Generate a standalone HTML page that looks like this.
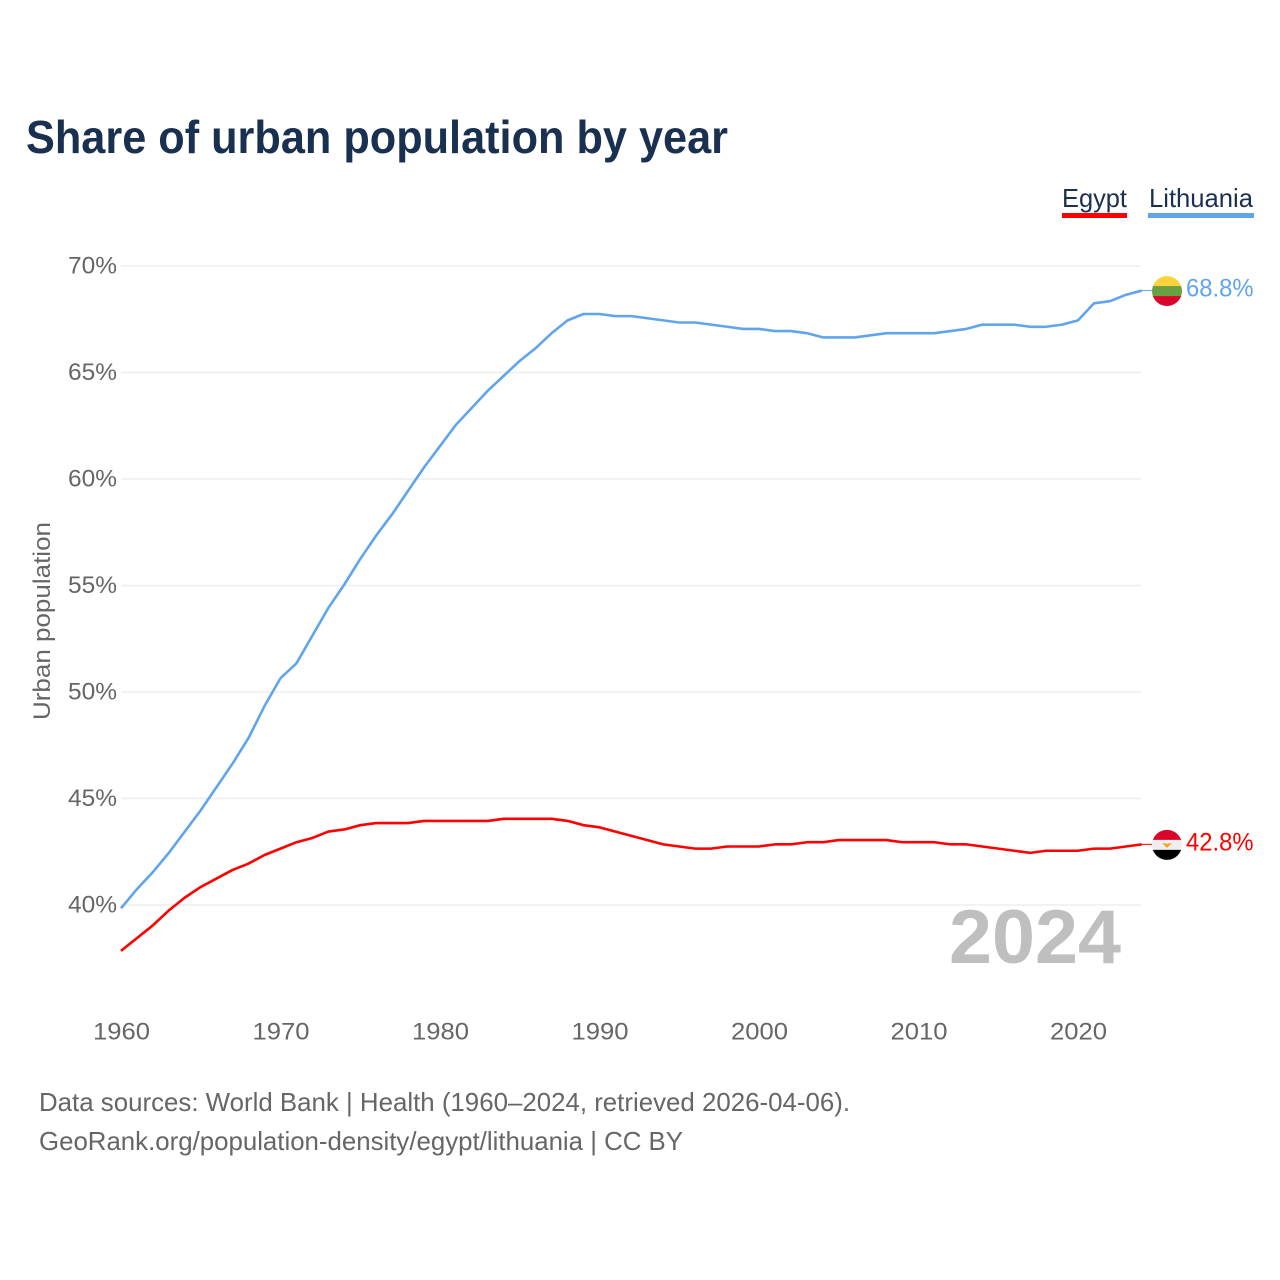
<!DOCTYPE html>
<html lang="en">
<head>
<meta charset="utf-8">
<title>Share of urban population by year</title>
<style>
html,body{margin:0;padding:0;background:#fff;width:1280px;height:1280px;overflow:hidden}
svg{display:block;font-family:"Liberation Sans",sans-serif}
</style>
</head>
<body>
<svg id="chart" width="1280" height="1280" viewBox="0 0 1280 1280" xmlns="http://www.w3.org/2000/svg">
  <rect width="1280" height="1280" fill="#ffffff"/>
  <text x="26" y="153" font-size="46" font-weight="700" fill="#1a3050" textLength="702" lengthAdjust="spacingAndGlyphs">Share of urban population by year</text>

  <g>
    <g>
      <text x="1062" y="207" font-size="26" fill="#1a3050" textLength="65" lengthAdjust="spacingAndGlyphs">Egypt</text>
      <rect x="1062" y="213" width="65" height="5" fill="#ff0000"/>
    </g>
    <g>
      <text x="1149" y="207" font-size="26" fill="#1a3050" textLength="104" lengthAdjust="spacingAndGlyphs">Lithuania</text>
      <rect x="1148" y="213" width="106" height="5" fill="#60a5ec"/>
    </g>
  </g>

  <g id="grid"></g>
  <g id="yticks"></g>
  <g id="xticks"></g>

  <text transform="translate(50 621) rotate(-90)" text-anchor="middle" font-size="24" fill="#666666" textLength="198" lengthAdjust="spacingAndGlyphs">Urban population</text>

  <text x="949" y="963" font-size="76" font-weight="700" fill="#bfbfbf" textLength="172" lengthAdjust="spacingAndGlyphs">2024</text>

  <g id="series"></g>

  <defs>
    <clipPath id="clip-lt"><circle id="clip-lt-c" cx="1167" cy="290" r="15"/></clipPath>
    <clipPath id="clip-eg"><circle id="clip-eg-c" cx="1167" cy="844" r="15"/></clipPath>
  </defs>
  <g id="flag-lt" clip-path="url(#clip-lt)"></g>
  <g id="flag-eg" clip-path="url(#clip-eg)"></g>

  <text x="39" y="1111" font-size="26" fill="#666666" textLength="811" lengthAdjust="spacingAndGlyphs">Data sources: World Bank | Health (1960–2024, retrieved 2026-04-06).</text>
  <text x="39" y="1150" font-size="26" fill="#666666" textLength="644" lengthAdjust="spacingAndGlyphs">GeoRank.org/population-density/egypt/lithuania | CC BY</text>
</svg>
<script>
const years = [1960,1961,1962,1963,1964,1965,1966,1967,1968,1969,1970,1971,1972,1973,1974,1975,1976,1977,1978,1979,1980,1981,1982,1983,1984,1985,1986,1987,1988,1989,1990,1991,1992,1993,1994,1995,1996,1997,1998,1999,2000,2001,2002,2003,2004,2005,2006,2007,2008,2009,2010,2011,2012,2013,2014,2015,2016,2017,2018,2019,2020,2021,2022,2023,2024];
const lithuaniaValues = [39.8,40.7,41.5,42.4,43.4,44.4,45.5,46.6,47.8,49.3,50.6,51.3,52.6,53.9,55.0,56.2,57.3,58.3,59.4,60.5,61.5,62.5,63.3,64.1,64.8,65.5,66.1,66.8,67.4,67.7,67.7,67.6,67.6,67.5,67.4,67.3,67.3,67.2,67.1,67.0,67.0,66.9,66.9,66.8,66.6,66.6,66.6,66.7,66.8,66.8,66.8,66.8,66.9,67.0,67.2,67.2,67.2,67.1,67.1,67.2,67.4,68.2,68.3,68.6,68.8];
const egyptValues = [37.8,38.4,39.0,39.7,40.3,40.8,41.2,41.6,41.9,42.3,42.6,42.9,43.1,43.4,43.5,43.7,43.8,43.8,43.8,43.9,43.9,43.9,43.9,43.9,44.0,44.0,44.0,44.0,43.9,43.7,43.6,43.4,43.2,43.0,42.8,42.7,42.6,42.6,42.7,42.7,42.7,42.8,42.8,42.9,42.9,43.0,43.0,43.0,43.0,42.9,42.9,42.9,42.8,42.8,42.7,42.6,42.5,42.4,42.5,42.5,42.5,42.6,42.6,42.7,42.8];
const yTickValues = [40,45,50,55,60,65,70];
const xTickValues = [1960,1970,1980,1990,2000,2010,2020];

const NS = 'http://www.w3.org/2000/svg';
function xScale(year){ return 121 + (year - 1960) * 15.95; }
function yScale(pct){ return 905 - (pct - 40) * 21.3; }
function lineY(pct){ return yScale(pct) - 1; }
function make(tag, parent, attrs){
  const el = document.createElementNS(NS, tag);
  for (const k in attrs) el.setAttribute(k, attrs[k]);
  parent.appendChild(el);
  return el;
}

const grid = document.getElementById('grid');
const yticks = document.getElementById('yticks');
yTickValues.forEach(function(v){
  const line = make('line', grid, {x1:121, x2:1141, y1:yScale(v), y2:yScale(v), stroke:'#eeeeee', 'stroke-width':1.5});
  
  
  const t = make('text', yticks, {x:117, y:yScale(v)+7.5, 'text-anchor':'end', 'font-size':24, fill:'#666666'});
  
  
  t.setAttribute('textLength', '49');
  t.setAttribute('lengthAdjust', 'spacingAndGlyphs');
  t.textContent = v + '%';
});

const xticks = document.getElementById('xticks');
xTickValues.forEach(function(yr){
  const t = make('text', xticks, {x:xScale(yr)+0.5, y:1039.5, 'text-anchor':'middle', 'font-size':24, fill:'#666666'});
  
  
  t.setAttribute('textLength', '57');
  t.setAttribute('lengthAdjust', 'spacingAndGlyphs');
  t.textContent = yr;
});

const seriesGroup = document.getElementById('series');
function drawSeries(values, color, key){
  const pts = values.map(function(v, i){ return xScale(years[i]).toFixed(2) + ',' + lineY(v).toFixed(2); }).join(' ');
  const line = make('polyline', seriesGroup, {points:pts, fill:'none', stroke:color, 'stroke-width':2.6, 'stroke-linejoin':'round'});
  
  
  const lastV = values[values.length - 1];
  const lastX = xScale(years[years.length - 1]);
  const conn = make('line', seriesGroup, {x1:lastX, x2:1152, y1:lineY(lastV), y2:lineY(lastV), stroke:color, 'stroke-width':1});
  
  
  const label = make('text', seriesGroup, {x:1186, y:lineY(lastV)+6, 'font-size':25, fill:color});
  
  
  label.setAttribute('textLength', '67.5');
  label.setAttribute('lengthAdjust', 'spacingAndGlyphs');
  label.textContent = lastV.toFixed(1) + '%';
}
drawSeries(lithuaniaValues, '#60a5ec', 'lithuania');
drawSeries(egyptValues, '#ff0000', 'egypt');

function drawFlag(groupId, clipCircleId, value, colors){
  const cy = lineY(value) + 0.5;
  document.getElementById(clipCircleId).setAttribute('cy', cy);
  const g = document.getElementById(groupId);
  colors.forEach(function(c, i){
    make('rect', g, {x:1152, y:cy - 15 + i * 10, width:30, height:10.2, fill:c});
  });
  return cy;
}
drawFlag('flag-lt', 'clip-lt-c', lithuaniaValues[lithuaniaValues.length - 1], ['#fdd33d', '#6aa03f', '#d8062b']);
const egCy = drawFlag('flag-eg', 'clip-eg-c', egyptValues[egyptValues.length - 1], ['#d8062b', '#eeeeee', '#000000']);
const eagle = make('path', document.getElementById('flag-eg'), {d:'M1162 ' + (egCy-2) + 'L1167 ' + (egCy-1) + 'L1172 ' + (egCy-2) + 'L1169 ' + (egCy+1) + 'L1167 ' + (egCy+3) + 'L1165 ' + (egCy+1) + 'Z', fill:'#f5a020'});


</script>
</body>
</html>
